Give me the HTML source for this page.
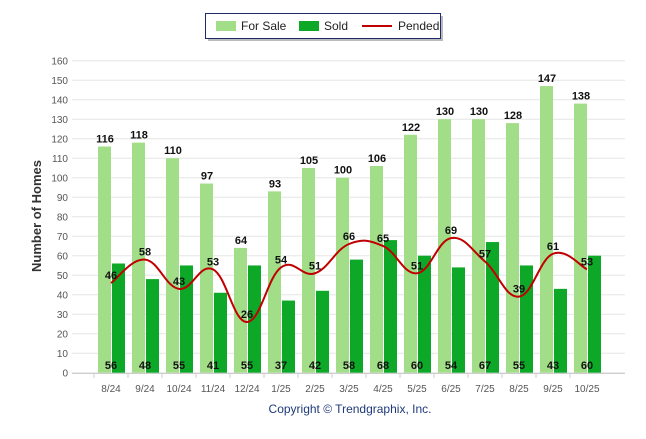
<!DOCTYPE html>
<html><head><meta charset="utf-8"><style>
body{margin:0;background:#fff;font-family:"Liberation Sans",sans-serif}
</style></head><body>
<svg id="c" width="646" height="434" xmlns="http://www.w3.org/2000/svg" font-family="Liberation Sans, sans-serif">
<g>
<rect x="208" y="16" width="235" height="25" fill="#bbb"/>
<rect x="205.5" y="13.5" width="235" height="25" fill="#fff" stroke="#1f2a6b" stroke-width="1"/>
<rect x="216" y="21" width="20" height="10" fill="#a2de87"/>
<text x="241" y="30" font-size="12" fill="#222">For Sale</text>
<rect x="299" y="21" width="20" height="10" fill="#0ea829"/>
<text x="324" y="30" font-size="12" fill="#222">Sold</text>
<line x1="362" y1="26" x2="392" y2="26" stroke="#c00000" stroke-width="2"/>
<text x="398" y="30" font-size="12" fill="#222">Pended</text>
</g>
<text transform="translate(41,216) rotate(-90)" text-anchor="middle" font-size="13" font-weight="bold" fill="#333">Number of Homes</text>
<text x="350" y="413" text-anchor="middle" font-size="12" fill="#1f3a7a">Copyright © Trendgraphix, Inc.</text>
<g id="grid"></g><g id="bars"></g><g id="line"></g><g id="labels"></g>
</svg>
<script>
const categories=["8/24","9/24","10/24","11/24","12/24","1/25","2/25","3/25","4/25","5/25","6/25","7/25","8/25","9/25","10/25"];
const forSale=[116,118,110,97,64,93,105,100,106,122,130,130,128,147,138];
const sold=[56,48,55,41,55,37,42,58,68,60,54,67,55,43,60];
const pended=[46,58,43,53,26,54,51,66,65,51,69,57,39,61,53];
const yTicks=[0,10,20,30,40,50,60,70,80,90,100,110,120,130,140,150,160];
const NS="http://www.w3.org/2000/svg";
const y=v=>372.7-v*(312/160);
const x=i=>111+34*i;
function mk(tag,attrs,parent){const e=document.createElementNS(NS,tag);for(const k in attrs)e.setAttribute(k,attrs[k]);document.getElementById(parent).appendChild(e);return e;}
yTicks.forEach(t=>{
 const g=mk("line",{x1:72,x2:625,y1:y(t),y2:y(t),stroke:"#e6e6e6","stroke-width":1},"grid");
 
 
 const l=mk("text",{x:68,y:y(t)+4,"text-anchor":"end","font-size":10,fill:"#555"},"grid");
 l.textContent=t;
 
 
});
const ax=mk("line",{x1:72,x2:625,y1:373.5,y2:373.5,stroke:"#ccc"},"grid");


categories.forEach((c,i)=>{
 const cx=x(i);
 const tk=mk("line",{x1:cx-17,x2:cx-17,y1:373,y2:378,stroke:"#ccc"},"grid");
 
 
 const b1=mk("rect",{x:cx-13,y:y(forSale[i]),width:13,height:y(0)-y(forSale[i]),fill:"#a2de87"},"bars");
 
 
 const b2=mk("rect",{x:cx+1,y:y(sold[i]),width:13,height:y(0)-y(sold[i]),fill:"#0ea829"},"bars");
 
 
 const l=mk("text",{x:cx,y:392,"text-anchor":"middle","font-size":10,fill:"#555"},"labels");
 l.textContent=c;
 
 
 const v1=mk("text",{x:cx-6,y:y(forSale[i])-4,"text-anchor":"middle","font-size":11,"font-weight":"bold",fill:"#111"},"labels");
 v1.textContent=forSale[i];
 
 
 const v2=mk("text",{x:cx,y:369,"text-anchor":"middle","font-size":11,"font-weight":"bold",fill:"#111"},"labels");
 v2.textContent=sold[i];
 
 
 const v3=mk("text",{x:cx,y:y(pended[i])-4,"text-anchor":"middle","font-size":11,"font-weight":"bold",fill:"#111"},"labels");
 v3.textContent=pended[i];
 
 
});
const pts=pended.map((v,i)=>[x(i),y(v)]);
let d="M"+pts[0][0]+","+pts[0][1];
for(let i=0;i<pts.length-1;i++){
 const p0=pts[i-1]||pts[i],p1=pts[i],p2=pts[i+1],p3=pts[i+2]||p2;
 const t=0.2;
 d+=` C${p1[0]+(p2[0]-p0[0])*t},${p1[1]+(p2[1]-p0[1])*t} ${p2[0]-(p3[0]-p1[0])*t},${p2[1]-(p3[1]-p1[1])*t} ${p2[0]},${p2[1]}`;
}
const pl=mk("path",{d:d,fill:"none",stroke:"#c00000","stroke-width":2},"line");


</script>
</body></html>
